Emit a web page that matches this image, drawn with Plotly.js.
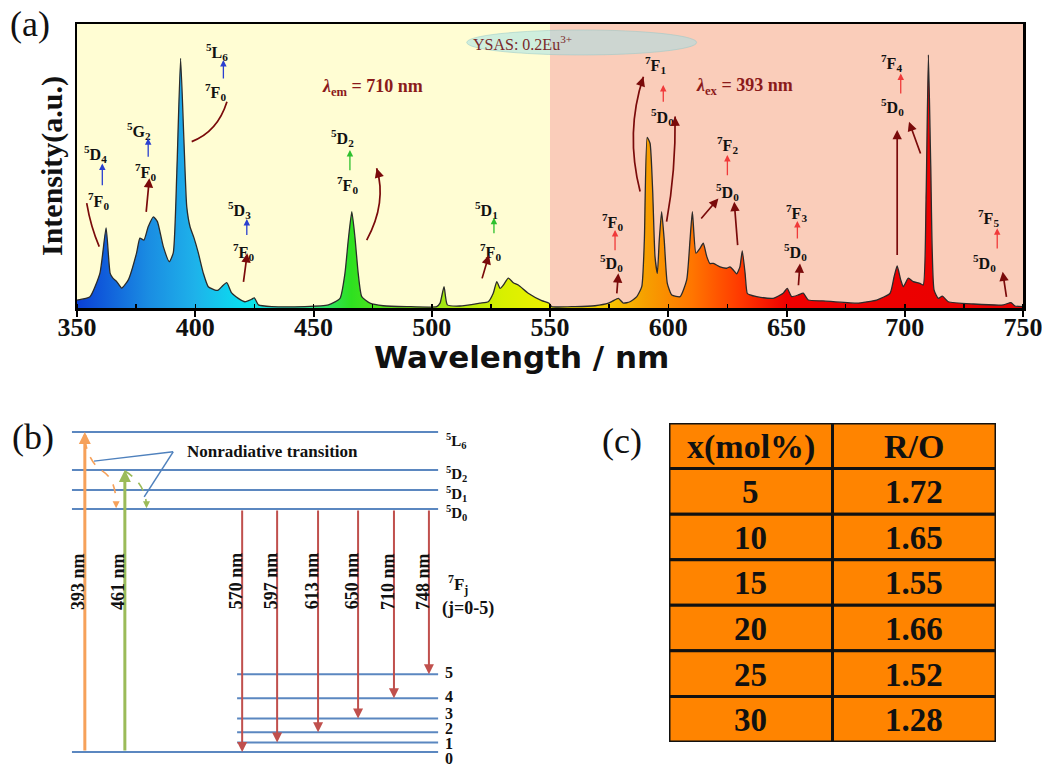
<!DOCTYPE html>
<html><head><meta charset="utf-8">
<script src="https://cdn.plot.ly/plotly-3.0.1.min.js"></script>
<style>html,body{margin:0;padding:0;background:#fff}#chart{width:1042px;height:767px}</style>
</head><body><div id="chart"></div>
<script>
// ---------- Panel (a): PLE / PL spectrum of YSAS:0.2Eu3+ ----------
const wavelength = [350.0,355.5,359.7,362.3,364.0,365.1,366.8,368.9,371.7,375.2,
376.6,378.3,380.1,382.3,384.0,386.5,389.0,390.7,392.2,393.8,
395.2,396.4,397.8,399.5,401.3,403.4,405.5,408.4,409.7,411.2,
413.3,415.4,418.2,421.0,423.9,425.0,426.7,432.3,446.4,456.3,
461.2,463.3,464.7,466.2,467.5,468.9,470.4,473.9,479.5,489.4,
502.1,503.5,505.2,506.6,511.9,520.4,523.9,526.0,527.5,528.9,
530.3,532.4,534.5,536.6,540.8,546.5,549.6,550.7,560.6,569.0,
574.7,576.6,578.9,581.0,583.8,586.7,588.8,589.9,591.1,592.3,
593.4,594.4,595.4,596.2,597.2,598.3,599.6,601.5,605.0,607.8,
609.2,610.2,611.7,613.4,614.8,616.3,617.6,619.1,621.9,624.7,
626.1,627.5,628.9,630.3,631.3,632.5,633.4,634.6,637.4,644.4,
648.6,650.3,652.2,655.0,657.1,659.2,665.6,679.7,688.1,693.8,
695.5,696.8,698.3,699.4,701.5,703.6,706.4,707.8,709.0,710.0,
711.0,712.4,714.2,715.9,718.4,729.0,741.7,744.9,746.6,750.0];
const intensity = [2.8,4.0,12.3,28.2,12.3,10.6,9.3,7.0,9.9,19.4,
24.6,23.9,28.6,32.1,30.4,21.6,16.3,19.4,47.5,87.9,
59.2,35.7,28.6,24.6,19.4,12.3,7.5,6.3,6.3,7.5,
8.9,5.3,3.4,2.2,3.1,3.6,1.1,0.5,0.5,1.1,
3.4,12.2,23.9,33.9,25.1,12.2,4.0,1.7,0.8,0.5,
0.5,1.7,7.5,1.1,0.7,1.7,2.2,5.2,9.3,6.9,
8.1,10.5,8.9,8.1,5.2,2.6,1.7,0.5,0.5,0.8,
1.7,2.5,3.4,1.7,2.2,4.0,7.5,23.9,60.1,58.0,
41.5,18.1,12.2,23.9,33.9,23.9,8.7,4.6,4.0,9.9,
23.9,33.9,19.3,21.0,22.8,18.1,15.7,15.7,14.5,14.0,
14.5,13.4,12.0,14.5,20.1,12.2,5.2,4.6,4.0,3.4,
5.2,6.9,4.0,4.6,5.2,2.8,2.5,1.7,2.8,5.2,
11.0,14.8,9.9,7.5,10.5,9.3,8.7,8.1,38.0,89.1,
49.8,6.3,3.4,4.2,2.2,1.4,1.1,1.9,0.7,0.5];
const xTickValues = [350,400,450,500,550,600,650,700,750];

// ---------- Panel (b): Eu3+ energy levels ----------
const upperLevelNames = ['<sup>5</sup>D<sub>0</sub>','<sup>5</sup>D<sub>1</sub>','<sup>5</sup>D<sub>2</sub>','<sup>5</sup>L<sub>6</sub>'];
const upperLevelEnergy = [75.9, 81.9, 88.1, 100];
const groundJ = [0,1,2,3,4,5];
const groundLevelEnergy = [0, 3.0, 6.2, 10.5, 16.8, 24.3];
const excitationNm = [393, 461];
const excitationTargetLevel = [3, 2];      // index into upper levels (5L6, 5D2)
const emissionNm = [570, 597, 613, 650, 710, 748];
const emissionFinalJ = [0, 1, 2, 3, 4, 5];

// ---------- Panel (c): table ----------
const tableHeader = ['x(mol%)', 'R/O'];
const concentration = [5, 10, 15, 20, 25, 30];
const ratioRO = [1.72, 1.65, 1.55, 1.66, 1.52, 1.28];

// ---------- styling ----------
const SERIF = '"Times New Roman", "Liberation Serif", serif';
const HEAVY = '"DejaVu Sans", Arial, sans-serif';
const W = 1042, H = 767;
const px2x = p => p / W;
const py2y = p => 1 - p / H;

const annotations = [];
const shapes = [];

// panel labels
[['(a)',30,24],['(b)',33,437],['(c)',622,441]].forEach(([t,x,y]) => annotations.push({
  xref:'paper', yref:'paper', x:px2x(x), y:py2y(y), text:t, showarrow:false,
  font:{family:SERIF, size:36, color:'#111'}, xanchor:'center', yanchor:'middle'}));

// x-axis title of panel (a)
annotations.push({xref:'paper', yref:'paper', x:px2x(521), y:py2y(357), text:'<b>Wavelength / nm</b>', showarrow:false,
  font:{family:HEAVY, size:31, color:'#111'}, xanchor:'center', yanchor:'middle'});

// ---- (a) backgrounds + ellipse ----
shapes.push({type:'rect', xref:'x', yref:'y domain', x0:350, x1:550, y0:0, y1:1, fillcolor:'#FFFDD3', line:{width:0}, layer:'below'});
shapes.push({type:'rect', xref:'x', yref:'y domain', x0:550, x1:750, y0:0, y1:1, fillcolor:'#FACDBA', line:{width:0}, layer:'below'});
shapes.push({type:'circle', xref:'x', yref:'y', x0:514.8, x1:612.0, y0:89.1, y1:97.9,
  fillcolor:'rgba(160,224,232,0.5)', line:{color:'rgba(150,200,200,0.5)', width:1}, layer:'above'});
annotations.push({xref:'x', yref:'y', x:538.4, y:93.4, text:'YSAS: 0.2Eu<sup>3+</sup>', showarrow:false,
  font:{family:SERIF, size:16, color:'#7A2A2A'}});

function lbl(x, y, t) {
  annotations.push({xref:'x', yref:'y', x, y, text:'<b>'+t+'</b>', showarrow:false,
    font:{family:SERIF, size:16, color:'#111'}});
}
function arr(x0, y0, x1, y1, color, w, size) {
  annotations.push({xref:'x', yref:'y', axref:'x', ayref:'y', x:x1, y:y1, ax:x0, ay:y0, text:'',
    showarrow:true, arrowhead:2, arrowsize:size||1, arrowwidth:w||1.5, arrowcolor:color});
}
function curve(x0, y0, cx, cy, x1, y1, color) {
  shapes.push({type:'path', xref:'x', yref:'y', path:`M ${x0},${y0} Q ${cx},${cy} ${x1},${y1}`,
    line:{color, width:1.7}});
  const t = 0.12;
  arr(x1 - t*(x1-cx), y1 - t*(y1-cy), x1, y1, color, 1.7, 1.1);
}
const F = (a,b) => `<sup>${a}</sup>F<sub>${b}</sub>`;
const D = (a,b) => `<sup>${a}</sup>D<sub>${b}</sub>`;

// excitation side labels
lbl(358.0,54.2,D(5,4)); lbl(359.0,37.7,F(7,0));
lbl(376.2,62.3,'<sup>5</sup>G<sub>2</sub>'); lbl(379.1,47.9,F(7,0));
lbl(409.4,90.3,'<sup>5</sup>L<sub>6</sub>'); lbl(408.4,76.2,F(7,0));
lbl(418.9,34.6,D(5,3)); lbl(420.2,19.8,F(7,0));
lbl(462.1,59.9,D(5,2)); lbl(464.2,43.3,F(7,0));
lbl(523.2,34.6,D(5,1)); lbl(525.0,19.8,F(7,0));
// emission side labels
lbl(576.4,30.4,F(7,0)); lbl(576.2,15.7,D(5,0));
lbl(594.4,85.6,F(7,1)); lbl(597.6,67.4,D(5,0));
lbl(625.0,57.4,F(7,2)); lbl(625.0,41.0,D(5,0));
lbl(654.3,33.3,F(7,3)); lbl(653.6,19.8,D(5,0));
lbl(694.6,86.4,F(7,4)); lbl(694.8,70.6,D(5,0));
lbl(735.6,31.6,F(7,5)); lbl(733.9,16.0,D(5,0));

const BLUE='#2A3FD0', GREEN='#2EC02E', LRED='#F03A3A', DRED='#7A0A0A';
arr(360.7,42.7,360.7,50.9,BLUE,1.3); arr(380.1,52.7,380.1,59.8,BLUE,1.3);
arr(411.9,80.3,411.9,87.3,BLUE,1.3); arr(421.8,25.2,421.8,31.3,BLUE,1.3);
arr(465.4,48.0,465.4,55.6,GREEN,1.3); arr(526.3,25.8,526.3,31.8,GREEN,1.3);
arr(577.5,19.8,577.5,27.5,LRED,1.3); arr(597.9,72.1,597.9,78.5,LRED,1.3);
arr(625.0,46.2,625.0,53.9,LRED,1.3); arr(654.6,23.9,654.6,30.6,LRED,1.3);
arr(698.3,75.0,698.3,82.6,LRED,1.3); arr(739.1,20.4,739.1,28.1,LRED,1.3);

arr(379.2,33.3,380.6,45.7,DRED,1.7,1.1); arr(420.3,8.7,422.0,19.3,DRED,1.7,1.1);
arr(521.1,9.9,524.2,18.7,DRED,1.7,1.1); arr(578.2,4.6,578.9,12.2,DRED,1.7,1.1);
arr(613.4,31.0,621.2,38.6,DRED,1.7,1.1); arr(629.4,21.6,627.9,37.4,DRED,1.7,1.1);
arr(655.0,7.5,655.7,15.7,DRED,1.7,1.1); arr(696.8,18.1,696.8,62.7,DRED,1.7,1.1);
arr(706.9,53.9,701.8,65.6,DRED,1.7,1.1); arr(743.1,3.4,741.4,12.8,DRED,1.7,1.1);

curve(359.4,21.6,355.8,28.6,354.1,36.9,DRED);
curve(398.5,58.6,409.4,62.0,413.4,72.6,DRED);
curve(472.5,23.9,481.1,37.1,476.7,49.2,DRED);
curve(588.1,41.0,581.7,61.8,589.5,81.4,DRED);
curve(599.3,30.4,603.2,48.3,602.9,67.4,DRED);

annotations.push({xref:'x', yref:'y', x:474.9, y:77.6, showarrow:false,
  text:'<b><i>λ</i><sub>em</sub> = 710 nm</b>', font:{family:SERIF, size:18, color:'#8B1A1A'}});
annotations.push({xref:'x', yref:'y', x:632.3, y:78.0, showarrow:false,
  text:'<b><i>λ</i><sub>ex</sub> = 393 nm</b>', font:{family:SERIF, size:18, color:'#8B1A1A'}});

// ---- (b) energy diagram ----
const LEVEL_X0 = 2.6, LEVEL_X1 = 82.2, LOWF_X0 = 38.5;
const lvX = [], lvY = [];
upperLevelEnergy.forEach(e => { lvX.push(LEVEL_X0, LEVEL_X1, null); lvY.push(e, e, null); });
groundLevelEnergy.forEach((e,j) => { lvX.push(j===0?LEVEL_X0:LOWF_X0, LEVEL_X1, null); lvY.push(e, e, null); });

upperLevelNames.forEach((n,i) => annotations.push({xref:'x2', yref:'y2', x:86.1, y:upperLevelEnergy[i] + (i===3?-2.8:-1.2),
  text:'<b>'+n+'</b>', showarrow:false, font:{family:SERIF, size:15, color:'#111'}}));
const jLabelY = [-1.9, 2.6, 7.3, 11.9, 17.5, 24.8];
groundJ.forEach((j,i) => annotations.push({xref:'x2', yref:'y2', x:84.6, y:jLabelY[i],
  text:'<b>'+j+'</b>', showarrow:false, borderpad:0, font:{family:SERIF, size:16, color:'#111'}}));
annotations.push({xref:'x2', yref:'y2', x:86.6, y:52.2, text:'<b><sup>7</sup>F<sub>j</sub></b>', showarrow:false,
  font:{family:SERIF, size:17, color:'#111'}});
annotations.push({xref:'x2', yref:'y2', x:88.7, y:45.0, text:'<b>(j=0-5)</b>', showarrow:false,
  font:{family:SERIF, size:18, color:'#111'}});
annotations.push({xref:'x2', yref:'y2', x:46.2, y:93.9, text:'<b>Nonradiative transition</b>', showarrow:false,
  font:{family:SERIF, size:17, color:'#111'}});

const excX = [5.4, 14.1], excCol = ['#F6A15A', '#9BBB59'];
excitationNm.forEach((nm,i) => {
  annotations.push({xref:'x2', yref:'y2', axref:'x2', ayref:'y2', x:excX[i], y:upperLevelEnergy[excitationTargetLevel[i]],
    ax:excX[i], ay:groundLevelEnergy[0], text:'', showarrow:true, arrowhead:2, arrowsize:0.8, arrowwidth:3, arrowcolor:excCol[i]});
  annotations.push({xref:'x2', yref:'y2', x:excX[i]-1.5, y:53.4, text:'<b>'+nm+' nm</b>', textangle:-90, showarrow:false,
    font:{family:SERIF, size:18, color:'#111'}});
});
const emX = [39.6, 47.2, 56.1, 64.8, 72.6, 80.2];
emissionNm.forEach((nm,i) => {
  annotations.push({xref:'x2', yref:'y2', axref:'x2', ayref:'y2', x:emX[i], y:groundLevelEnergy[emissionFinalJ[i]],
    ax:emX[i], ay:upperLevelEnergy[0], text:'', showarrow:true, arrowhead:2, arrowsize:1, arrowwidth:2, arrowcolor:'#C0504D'});
  annotations.push({xref:'x2', yref:'y2', x:emX[i]-1.3, y:53.4, text:'<b>'+nm+' nm</b>', textangle:-90, showarrow:false,
    font:{family:SERIF, size:18, color:'#111'}});
});
// nonradiative dashed curves and callout lines
shapes.push({type:'path', xref:'x2', yref:'y2', path:'M 5.4,97.5 Q 6.2,90.5 9.4,87.6 Q 12.2,85 12.2,77.2', line:{color:'#F6A15A', width:1.6, dash:'dash'}});
annotations.push({xref:'x2', yref:'y2', axref:'x2', ayref:'y2', x:12.2, y:76.2, ax:12.2, ay:78.5, text:'', showarrow:true,
  arrowhead:2, arrowsize:1, arrowwidth:1.4, arrowcolor:'#F6A15A'});
shapes.push({type:'path', xref:'x2', yref:'y2', path:'M 14.1,87.8 Q 18.5,84 18.8,77.2', line:{color:'#9BBB59', width:1.6, dash:'dash'}});
annotations.push({xref:'x2', yref:'y2', axref:'x2', ayref:'y2', x:18.8, y:76.2, ax:18.8, ay:78.5, text:'', showarrow:true,
  arrowhead:2, arrowsize:1, arrowwidth:1.4, arrowcolor:'#9BBB59'});
shapes.push({type:'line', xref:'x2', yref:'y2', x0:24.6, y0:93.8, x1:7.4, y1:90.9, line:{color:'#4F81BD', width:1.5}});
shapes.push({type:'line', xref:'x2', yref:'y2', x0:24.6, y0:93.8, x1:18.3, y1:79.7, line:{color:'#4F81BD', width:1.5}});

// ---- (c) table drawn on its own axes (column index x, row index y) ----
const TABLE_FILL = '#FF8400';
const tableRows = [tableHeader].concat(concentration.map((c,i) => [String(c), ratioRO[i].toFixed(2)]));
tableRows.forEach((row, r) => row.forEach((txt, c) => {
  shapes.push({type:'rect', xref:'x3', yref:'y3', x0:c, x1:c+1, y0:r, y1:r+1, fillcolor:TABLE_FILL,
    line:{color:'#111', width:3}});
  annotations.push({xref:'x3', yref:'y3', x:c+0.5, y:r+0.52, text:'<b>'+txt+'</b>', showarrow:false,
    font:{family:SERIF, size:r===0?34:33, color:'#111'}, xanchor:'center', yanchor:'middle'});
}));

// ---------- traces ----------
const traces = [
  {type:'scatter', x:wavelength, y:intensity, mode:'lines', fill:'tozeroy',
   line:{color:'#2b2b2b', width:1.3, shape:'spline', smoothing:0.5},
   fillgradient:{type:'horizontal', start:350, stop:750, colorscale:[
     [0.0,'#0A3FD6'],[0.075,'#1A8CE2'],[0.125,'#1EB2EA'],[0.18,'#08E2F0'],[0.24,'#30E8A0'],
     [0.29,'#2EE020'],[0.39,'#A6E812'],[0.45,'#D8F000'],[0.5,'#EEF000'],[0.56,'#F8C800'],
     [0.6,'#F6A000'],[0.65,'#FF7600'],[0.7,'#FF3A00'],[0.75,'#F00000'],[1.0,'#E80000']]},
   hoverinfo:'skip', showlegend:false},
  {type:'scatter', x:lvX, y:lvY, xaxis:'x2', yaxis:'y2', mode:'lines',
   line:{color:'#5B87C0', width:2}, hoverinfo:'skip', showlegend:false, connectgaps:false}
];

const layout = {
  width:W, height:H, autosize:false, margin:{l:0, r:0, t:0, b:0},
  paper_bgcolor:'#fff', plot_bgcolor:'#fff', showlegend:false,
  xaxis:{domain:[px2x(77), px2x(1023)], range:[350,750], tickvals:xTickValues, ticks:'outside', ticklen:6, tickwidth:2,
    tickcolor:'#000', showline:true, mirror:true, linewidth:2.5, linecolor:'#000', showgrid:false, zeroline:false,
    ticklabelstandoff:-12, ticklabeloverflow:'allow',
    minor:{dtick:25, tick0:350, ticks:'inside', ticklen:4, tickwidth:1.5, tickcolor:'#000'},
    tickfont:{family:SERIF, size:26, color:'#111', weight:'bold'}},
  yaxis:{domain:[py2y(308), py2y(24)], range:[0,100], showticklabels:false, ticks:'', showline:true, mirror:true,
    linewidth:2.5, linecolor:'#000', showgrid:false, zeroline:false,
    title:{text:'<b>Intensity(a.u.)</b>', font:{family:SERIF, size:30, color:'#111'}, standoff:3}},
  xaxis2:{domain:[px2x(60), px2x(520)], range:[0,100], visible:false, anchor:'y2'},
  yaxis2:{domain:[py2y(765), py2y(420)], range:[-4.06,103.75], visible:false, anchor:'x2'},
  xaxis3:{domain:[px2x(669), px2x(996)], range:[0,2], visible:false, anchor:'y3'},
  yaxis3:{domain:[py2y(742), py2y(423)], range:[7,0], visible:false, anchor:'x3'},
  shapes, annotations
};

Plotly.newPlot('chart', traces, layout, {displayModeBar:false, staticPlot:true});
</script></body></html>
